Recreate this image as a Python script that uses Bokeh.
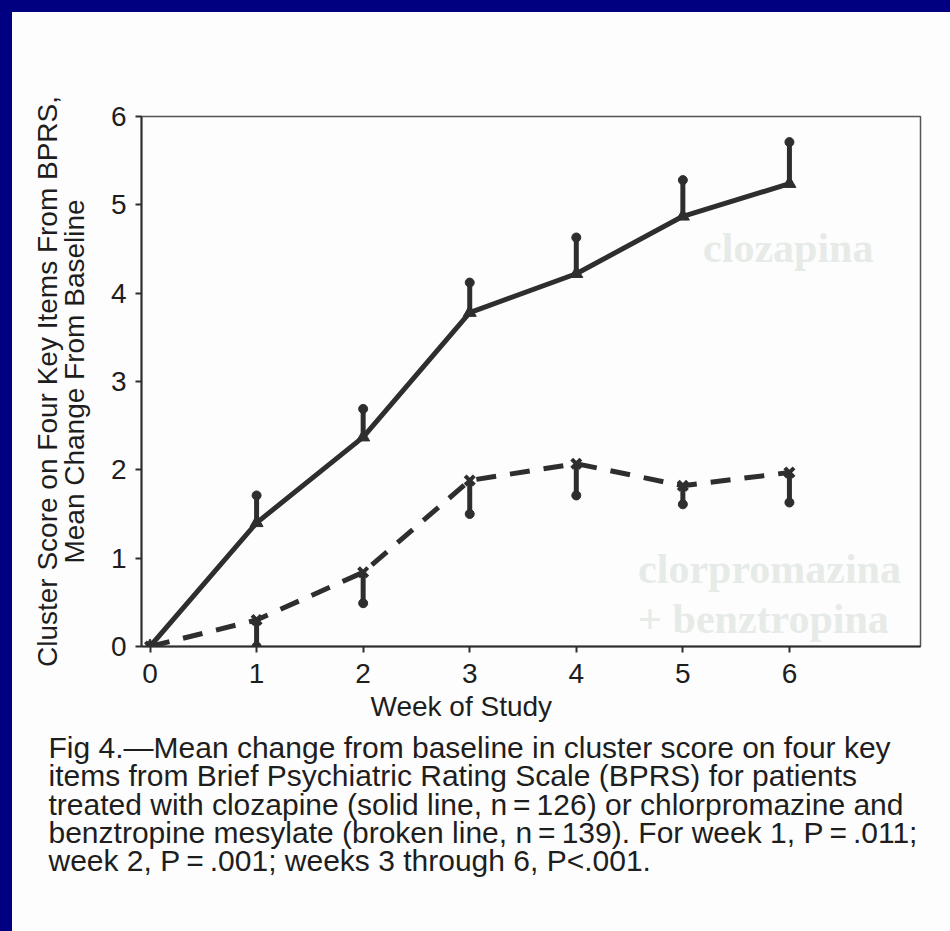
import math
from bokeh.plotting import figure
from bokeh.models import Label, Spacer, FixedTicker, Range1d, Title
from bokeh.layouts import column, row
from bokeh.embed import file_html
from bokeh.resources import INLINE

# ---- data ----
weeks = [0, 1, 2, 3, 4, 5, 6]
clozapine_mean = [0.0, 1.40, 2.37, 3.78, 4.22, 4.87, 5.24]
err_weeks = [1, 2, 3, 4, 5, 6]
clozapine_upper = [1.71, 2.69, 4.12, 4.63, 5.28, 5.71]
cpz_mean = [0.0, 0.30, 0.84, 1.88, 2.07, 1.82, 1.97]
cpz_lower = [0.00, 0.49, 1.50, 1.71, 1.61, 1.63]

x_ticks = [0, 1, 2, 3, 4, 5, 6]
y_ticks = [0, 1, 2, 3, 4, 5, 6]

ylabel_lines = ["Cluster Score on Four Key Items From BPRS,",
                "Mean Change From Baseline"]
xlabel = "Week of Study"
caption_lines = [
    "Fig 4.\u2014Mean change from baseline in cluster score on four key",
    "items from Brief Psychiatric Rating Scale (BPRS) for patients",
    "treated with clozapine (solid line, n\u2009=\u2009126) or chlorpromazine and",
    "benztropine mesylate (broken line, n\u2009=\u2009139). For week 1, P\u2009=\u2009.011;",
    "week 2, P\u2009=\u2009.001; weeks 3 through 6, P<.001.",
]
watermark_cloz = "clozapina"
watermark_cpz = ["clorpromazina", "+ benztropina"]

INK = "#2e2e2e"
TXT = "#1e1e1e"
PAPER = "#fdfdfd"
BLUE = "#000080"
SANS = "Liberation Sans"
SERIF = "Liberation Serif"

p = figure(
    output_backend="svg", toolbar_location=None,
    frame_width=779, frame_height=530,
    x_range=Range1d(-0.08, 7.23), y_range=Range1d(0, 6),
    min_border_left=129, min_border_right=30,
    min_border_top=104, min_border_bottom=285,
    background_fill_color=PAPER, border_fill_color=PAPER,
)
p.grid.visible = False
p.outline_line_color = "#555555"
p.outline_line_width = 1.5

for ax in (p.xaxis[0], p.yaxis[0]):
    ax.axis_line_color = INK
    ax.axis_line_width = 2
    ax.major_tick_line_color = INK
    ax.major_tick_line_width = 2
    ax.major_tick_out = 6
    ax.major_tick_in = 0
    ax.minor_tick_line_color = None
    ax.major_label_text_font = SANS
    ax.major_label_text_font_size = "28px"
    ax.major_label_text_color = TXT
p.xaxis[0].ticker = FixedTicker(ticks=x_ticks)
p.yaxis[0].ticker = FixedTicker(ticks=y_ticks)
p.xaxis[0].major_label_standoff = 11
p.yaxis[0].major_label_standoff = 9

# y-axis label: two lines
yax = p.yaxis[0]
yax.axis_label = "\n".join(ylabel_lines)
yax.axis_label_text_font = SANS
yax.axis_label_text_font_style = "normal"
yax.axis_label_text_font_size = "28px"
yax.axis_label_text_color = TXT
yax.axis_label_text_line_height = 0.86
yax.axis_label_standoff = 18

# watermarks (very light)
wm_color = "#e6ebe7"
p.add_layout(Label(x=5.19, y=4.51, text=watermark_cloz, text_font=SERIF,
                   text_font_style="bold", text_font_size="42px",
                   text_color=wm_color, text_baseline="alphabetic"))
for i, t in enumerate(watermark_cpz):
    p.add_layout(Label(x=4.58, y=0.88 - 0.565 * i, text=t, text_font=SERIF,
                       text_font_style="bold", text_font_size="42px",
                       text_color=wm_color, text_baseline="alphabetic"))

# clozapine: solid line, error bars upward
p.line(weeks, clozapine_mean, line_color=INK, line_width=5)
p.segment(x0=err_weeks, y0=clozapine_mean[1:], x1=err_weeks, y1=clozapine_upper,
          line_color=INK, line_width=5)
p.scatter(err_weeks, clozapine_upper, size=9, color=INK)
p.scatter(weeks, clozapine_mean, marker="triangle", size=13, color=INK)

# chlorpromazine + benztropine: dashed line, error bars downward
p.line(weeks, cpz_mean, line_color=INK, line_width=5, line_dash="20 14")
p.segment(x0=err_weeks, y0=cpz_mean[1:], x1=err_weeks, y1=cpz_lower,
          line_color=INK, line_width=5)
p.scatter(err_weeks, cpz_lower, size=9, color=INK)
p.scatter(weeks, cpz_mean, marker="x", size=13, line_width=4, color=INK)

# x-axis label (shifted so it sits under the data, as in the reference)
p.add_layout(Title(text=xlabel, align="left", offset=229, standoff=6,
                   text_font=SANS, text_font_style="normal",
                   text_font_size="28px", text_color=TXT), "below")

# caption as one multi-line title
p.add_layout(Title(text="\n".join(caption_lines), align="left", offset=-93,
                   standoff=8, text_font=SANS, text_font_style="normal",
                   text_font_size="30px", text_line_height=0.86,
                   text_color=TXT), "below")

bg = {"background-color": BLUE}
layout = column(
    Spacer(width=950, height=12, styles=bg),
    row(Spacer(width=12, height=919, styles=bg), p, spacing=0),
    spacing=0,
)

open("out.html", "w").write(file_html(layout, INLINE))
